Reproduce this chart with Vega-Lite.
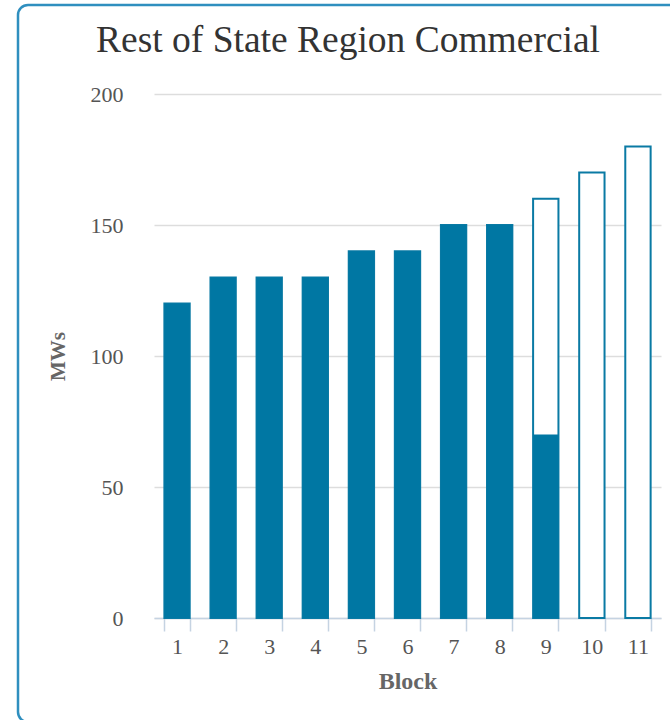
{
  "$schema": "https://vega.github.io/schema/vega-lite/v6.json",
  "width": 664,
  "height": 717,
  "autosize": {"type": "none"},
  "padding": {"left": 18, "top": 5, "right": -12, "bottom": -2},
  "background": "white",
  "title": {
    "text": "Rest of State Region Commercial",
    "font": "Liberation Serif",
    "fontSize": 37.5,
    "fontWeight": "normal",
    "color": "#333333",
    "anchor": "middle",
    "frame": "group",
    "baseline": "alphabetic",
    "dx": -2,
    "offset": -84
  },
  "data": {
    "values": [
      {"Block": 1, "Target": 120, "Filled": 120},
      {"Block": 2, "Target": 130, "Filled": 130},
      {"Block": 3, "Target": 130, "Filled": 130},
      {"Block": 4, "Target": 130, "Filled": 130},
      {"Block": 5, "Target": 140, "Filled": 140},
      {"Block": 6, "Target": 140, "Filled": 140},
      {"Block": 7, "Target": 150, "Filled": 150},
      {"Block": 8, "Target": 150, "Filled": 150},
      {"Block": 9, "Target": 160, "Filled": 70},
      {"Block": 10, "Target": 170, "Filled": 0},
      {"Block": 11, "Target": 180, "Filled": 0}
    ]
  },
  "encoding": {
    "x": {
      "field": "Block",
      "type": "ordinal",
      "scale": {"paddingInner": 0.45, "paddingOuter": 0.225, "range": [136, 643]},
      "axis": {
        "title": "Block",
        "offset": -104,
        "labelAngle": 0,
        "tickBand": "extent",
        "tickSize": 13,
        "tickColor": "#c5d3e2",
        "domainColor": "#c5d3e2",
        "domainWidth": 1.5,
        "tickWidth": 1.5,
        "labelFont": "Liberation Serif",
        "labelFontSize": 22,
        "labelColor": "#555555",
        "labelPadding": 5,
        "titleFont": "Liberation Serif",
        "titleFontSize": 24,
        "titleFontWeight": "bold",
        "titleColor": "#666666",
        "titlePadding": 12,
        "grid": false
      }
    }
  },
  "layer": [
    {
      "mark": {"type": "bar", "fill": "white", "stroke": "#0a7aa4", "strokeWidth": 2},
      "encoding": {
        "y": {
          "field": "Target",
          "type": "quantitative",
          "scale": {"domain": [0, 200], "range": [613, 89]},
          "axis": {
            "title": "MWs",
            "offset": -136,
            "values": [0, 50, 100, 150, 200],
            "domain": false,
            "ticks": false,
            "gridColor": "#dddddd",
            "gridWidth": 1.5,
            "labelFont": "Liberation Serif",
            "labelFontSize": 22,
            "labelColor": "#555555",
            "labelPadding": 31,
            "titleFont": "Liberation Serif",
            "titleFontSize": 21,
            "titleFontWeight": "bold",
            "titleColor": "#666666",
            "titlePadding": 22
          }
        }
      }
    },
    {
      "mark": {"type": "bar", "color": "#0077a3"},
      "encoding": {
        "y": {"field": "Filled", "type": "quantitative"}
      }
    }
  ],
  "config": {
    "view": {"stroke": "#2f8fbf", "strokeWidth": 2.5, "cornerRadius": 10}
  }
}
